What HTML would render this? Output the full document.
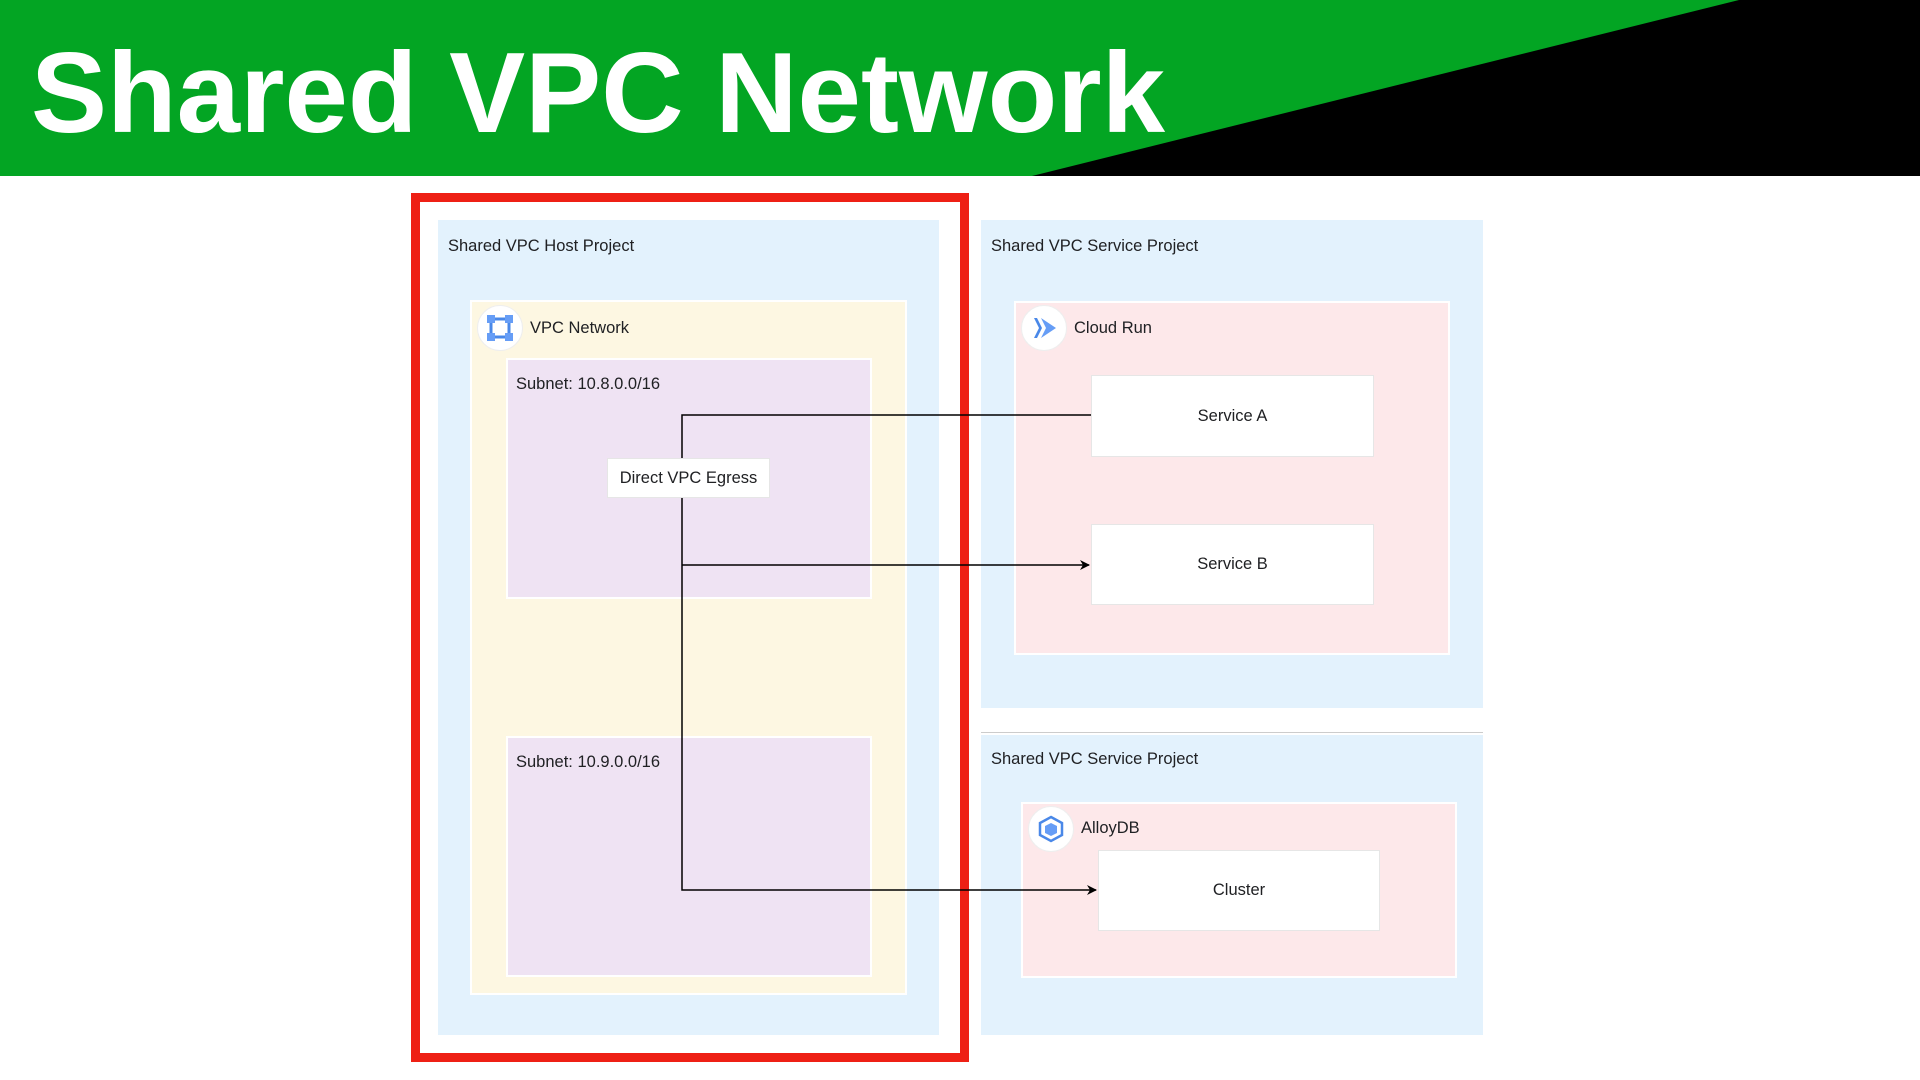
<!DOCTYPE html>
<html><head><meta charset="utf-8"><style>
*{margin:0;padding:0;box-sizing:border-box}
body{width:1920px;height:1080px;background:#fff;position:relative;overflow:hidden;font-family:"Liberation Sans",sans-serif;color:#202124}
.a{position:absolute}
.lbl{position:absolute;font-size:16.5px;white-space:nowrap;line-height:20px}
.box{position:absolute;background:#fff;border:1px solid #e6e6e6;display:flex;align-items:center;justify-content:center;font-size:16.5px}
.ic{position:absolute;width:46px;height:46px;border-radius:50%;background:#fff;border:1px solid #eee}
</style></head><body>
<svg class="a" style="left:0;top:0" width="1920" height="176">
<rect x="0" y="0" width="1920" height="176" fill="#000"/>
<polygon points="0,0 1739,0 1032,176 0,176" fill="#03a523"/>
<text x="31" y="132" font-family="Liberation Sans" font-weight="bold" font-size="114" fill="#fff">Shared VPC Network</text>
</svg>

<div class="a" style="left:411px;top:193px;width:558px;height:869px;border:9px solid #ee2015"></div>
<div class="a" style="left:438px;top:220px;width:501px;height:815px;background:#e3f2fd"></div>
<div class="lbl" style="left:448px;top:236px">Shared VPC Host Project</div>
<div class="a" style="left:470px;top:300px;width:437px;height:695px;background:#fdf7e2;border:2px solid #fff"></div>
<div class="ic" style="left:477px;top:305px"></div>
<svg class="a" style="left:486px;top:314px" width="28" height="28"><rect x="5" y="5" width="18" height="18" fill="none" stroke="#4a88e8" stroke-width="3"/><rect x="1" y="1" width="8" height="8" fill="#669df6"/><rect x="19" y="1" width="8" height="8" fill="#669df6"/><rect x="1" y="19" width="8" height="8" fill="#669df6"/><rect x="19" y="19" width="8" height="8" fill="#669df6"/></svg>
<div class="lbl" style="left:530px;top:318px">VPC Network</div>
<div class="a" style="left:506px;top:358px;width:366px;height:241px;background:#efe3f3;border:2px solid #fff"></div>
<div class="lbl" style="left:516px;top:374px">Subnet: 10.8.0.0/16</div>
<div class="a" style="left:506px;top:736px;width:366px;height:241px;background:#efe3f3;border:2px solid #fff"></div>
<div class="lbl" style="left:516px;top:752px">Subnet: 10.9.0.0/16</div>

<div class="a" style="left:981px;top:220px;width:502px;height:488px;background:#e3f2fd"></div>
<div class="lbl" style="left:991px;top:236px">Shared VPC Service Project</div>
<div class="a" style="left:1014px;top:301px;width:436px;height:354px;background:#fde8ea;border:2px solid #fff"></div>
<div class="ic" style="left:1021px;top:305px"></div>
<svg class="a" style="left:1030px;top:314px" width="28" height="28"><polygon points="4,4 9,14 4,24 7,24 12,14 7,4" fill="#4a88e8"/><polygon points="11,4 26,14 11,24 16,14" fill="#669df6"/></svg>
<div class="lbl" style="left:1074px;top:318px">Cloud Run</div>
<div class="box" style="left:1091px;top:375px;width:283px;height:82px">Service A</div>
<div class="box" style="left:1091px;top:524px;width:283px;height:81px">Service B</div>

<div class="a" style="left:981px;top:732px;width:502px;height:1px;background:#ccc"></div>
<div class="a" style="left:981px;top:735px;width:502px;height:300px;background:#e3f2fd"></div>
<div class="lbl" style="left:991px;top:749px">Shared VPC Service Project</div>
<div class="a" style="left:1021px;top:802px;width:436px;height:176px;background:#fde8ea;border:2px solid #fff"></div>
<div class="ic" style="left:1028px;top:806px"></div>
<svg class="a" style="left:1037px;top:815px" width="28" height="28"><polygon points="14,2 25,8 25,20 14,26 3,20 3,8" fill="none" stroke="#4a88e8" stroke-width="2.5"/><polygon points="14,8 20,11 20,18 14,21 8,18 8,11" fill="#669df6"/></svg>
<div class="lbl" style="left:1081px;top:818px">AlloyDB</div>
<div class="box" style="left:1098px;top:850px;width:282px;height:81px">Cluster</div>

<svg class="a" style="left:0;top:0" width="1920" height="1080">
<defs><marker id="ar" markerWidth="10" markerHeight="10" refX="9" refY="5" orient="auto" markerUnits="userSpaceOnUse"><path d="M0,0 L10,5 L0,10 L3,5 Z" fill="#000"/></marker></defs>
<path d="M682,458 V415 H1091" fill="none" stroke="#000" stroke-width="1.5"/>
<path d="M682,498 V890 H1096" fill="none" stroke="#000" stroke-width="1.5" marker-end="url(#ar)"/>
<path d="M682,565 H1089" fill="none" stroke="#000" stroke-width="1.5" marker-end="url(#ar)"/>
</svg>
<div class="box" style="left:607px;top:458px;width:163px;height:40px">Direct VPC Egress</div>
</body></html>
